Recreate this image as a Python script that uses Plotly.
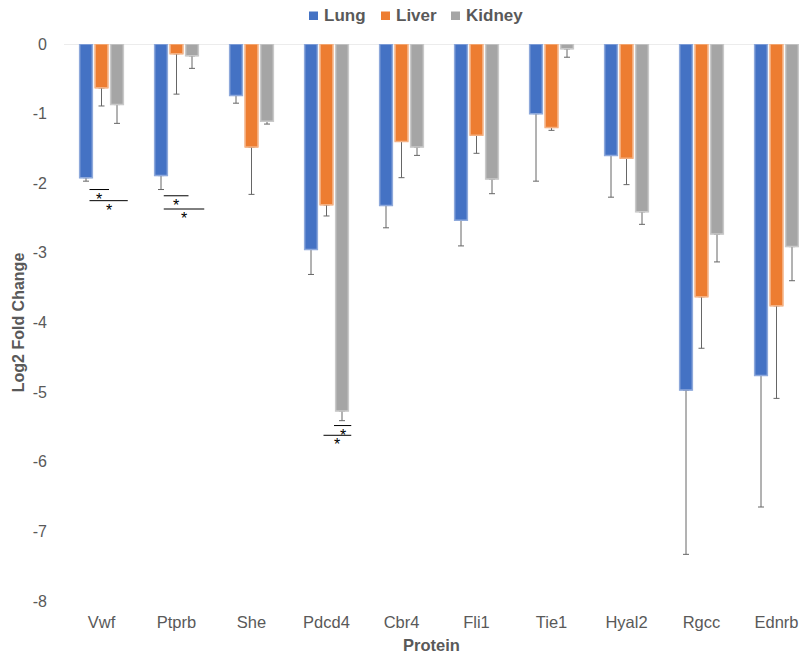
import plotly.graph_objects as go

# Log2 fold change per protein and tissue, with one-sided (downward) error bars
proteins = ["Vwf", "Ptprb", "She", "Pdcd4", "Cbr4", "Fli1", "Tie1", "Hyal2", "Rgcc", "Ednrb"]

lung = [-1.92, -1.89, -0.74, -2.95, -2.32, -2.53, -1.00, -1.60, -4.97, -4.76]
lung_err = [0.05, 0.20, 0.11, 0.36, 0.32, 0.37, 0.97, 0.60, 2.36, 1.89]

liver = [-0.63, -0.14, -1.48, -2.31, -1.40, -1.31, -1.20, -1.64, -3.63, -3.76]
liver_err = [0.26, 0.58, 0.68, 0.16, 0.52, 0.26, 0.04, 0.38, 0.74, 1.33]

kidney = [-0.87, -0.17, -1.11, -5.27, -1.48, -1.94, -0.07, -2.41, -2.73, -2.91]
kidney_err = [0.27, 0.18, 0.04, 0.14, 0.12, 0.21, 0.12, 0.18, 0.40, 0.49]

# Significance brackets: (protein, x offset start, x offset end, y level)
sig_lines = [
    ("Vwf", -0.16, 0.10, -2.09),
    ("Vwf", -0.16, 0.35, -2.25),
    ("Ptprb", -0.17, 0.16, -2.18),
    ("Ptprb", -0.17, 0.37, -2.37),
    ("Pdcd4", 0.10, 0.33, -5.48),
    ("Pdcd4", -0.04, 0.33, -5.62),
]

series = [
    ("Lung", lung, lung_err, "#4472C4", "#8EA9DB"),
    ("Liver", liver, liver_err, "#ED7D31", "#F4B183"),
    ("Kidney", kidney, kidney_err, "#A5A5A5", "#C9C9C9"),
]

FONT = "Liberation Sans, Arial, sans-serif"
GREY_TEXT = "#595959"

W, H = 799, 657
ML, MR, MT, MB = 64, 0, 44, 56
PW, PH = W - ML - MR, H - MT - MB


def px_x(p):
    return (p - ML) / PW


def px_y(p):
    return (H - MB - p) / PH


fig = go.Figure()

# First pass: bars carrying the error bars
for name, vals, errs, color, edge in series:
    fig.add_trace(go.Bar(
        x=proteins, y=vals, name=name, offsetgroup=name, showlegend=False,
        marker=dict(color=color, line=dict(color=edge, width=1)),
        error_y=dict(type="data", symmetric=False, array=[0] * len(errs),
                     arrayminus=errs, color="#666666", thickness=1, width=3),
        hoverinfo="skip",
    ))

# Second pass: same bars on top, so only the downward whisker remains visible
for name, vals, errs, color, edge in series:
    fig.add_trace(go.Bar(
        x=proteins, y=vals, name=name, offsetgroup=name, showlegend=False,
        marker=dict(color=color, line=dict(color=edge, width=1.5)),
    ))

# Significance lines and asterisks
for prot, x0, x1, yv in sig_lines:
    i = proteins.index(prot)
    fig.add_shape(type="line", xref="x", yref="y",
                  x0=i + x0, x1=i + x1, y0=yv, y1=yv,
                  line=dict(color="black", width=1))
    fig.add_annotation(x=i + (x0 + x1) / 2, y=yv, xref="x", yref="y",
                       text="*", showarrow=False, yanchor="top", yshift=1,
                       font=dict(family=FONT, size=16, color="black"))

# Zero line along the top of the plot
fig.add_shape(type="line", xref="paper", yref="y", x0=0, x1=1, y0=0, y1=0,
              line=dict(color="#D9D9D9", width=1), layer="below")

# Compact legend across the top: small square key followed by the series name
legend_left = [309, 381, 451]
for (name, _, _, color, _), left in zip(series, legend_left):
    fig.add_shape(type="rect", xref="paper", yref="paper",
                  x0=px_x(left), x1=px_x(left + 9), y0=px_y(20), y1=px_y(11.5),
                  fillcolor=color, line=dict(width=0))
    fig.add_annotation(x=px_x(left + 12.5), y=px_y(16), xref="paper", yref="paper",
                       text=f"<b>{name}</b>", showarrow=False,
                       xanchor="left", yanchor="middle",
                       font=dict(family=FONT, size=17, color=GREY_TEXT))

yticks = [0, -1, -2, -3, -4, -5, -6, -7, -8]

fig.update_layout(
    width=W, height=H,
    margin=dict(l=ML, r=MR, t=MT, b=MB, autoexpand=False),
    paper_bgcolor="white", plot_bgcolor="white",
    barmode="group", bargap=0.38, bargroupgap=0.18,
    font=dict(family=FONT, color=GREY_TEXT, size=16),
    showlegend=False,
    xaxis=dict(
        range=[-0.5, 9.3], showgrid=False, showline=False, zeroline=False,
        tickfont=dict(size=16.5, color=GREY_TEXT), ticks="", ticklabelstandoff=9,
        title=dict(text="Protein", font=dict(size=16.5, color=GREY_TEXT, weight="bold"),
                   standoff=9),
    ),
    yaxis=dict(
        range=[-8, 0], showgrid=False, zeroline=False, showline=False,
        tickvals=yticks, ticktext=[str(v) for v in yticks],
        tickfont=dict(size=16, color=GREY_TEXT), ticklabelstandoff=16,
        title=dict(text="Log2 Fold Change", font=dict(size=16, color=GREY_TEXT, weight="bold"),
                   standoff=4),
    ),
)

fig.write_html("out.html")
